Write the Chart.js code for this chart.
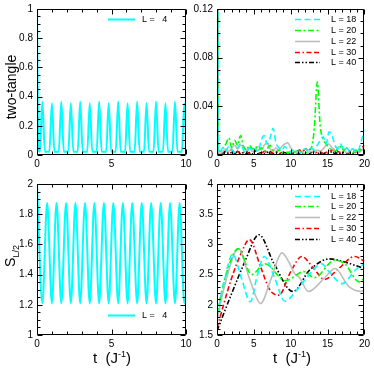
<!DOCTYPE html>
<html><head><meta charset="utf-8">
<script src="https://cdn.jsdelivr.net/npm/chart.js@4.4.1/dist/chart.umd.min.js"></script>
<style>
html,body{margin:0;padding:0;background:#fff;}
#wrap{position:relative;width:374px;height:368px;overflow:hidden;font-family:"Liberation Sans",Arial,sans-serif;}
canvas{position:absolute;left:0;top:0;}
.lab{position:absolute;color:#000;white-space:nowrap;line-height:1;}
</style></head><body>
<div id="wrap">
<canvas id="c1" width="374" height="368"></canvas>
<canvas id="c2" width="374" height="368"></canvas>
<canvas id="c3" width="374" height="368"></canvas>
<canvas id="c4" width="374" height="368"></canvas>
<div class="lab" style="left:11px;top:87px;font-size:14px;transform:translate(-50%,-50%) rotate(-90deg);">two-tangle</div>
<div class="lab" style="left:12px;top:256px;font-size:14px;transform:translate(-50%,-50%) rotate(-90deg);">S<sub style="font-size:9px;">L/2</sub></div>
<div class="lab" style="left:112px;top:357px;font-size:15px;transform:translate(-50%,-50%);">t&nbsp;&nbsp;(J<sup style="font-size:9px;">-1</sup>)</div>
<div class="lab" style="left:292px;top:357px;font-size:15px;transform:translate(-50%,-50%);">t&nbsp;&nbsp;(J<sup style="font-size:9px;">-1</sup>)</div>
</div>
<script>
// ---------- data ----------
// top-left: two-tangle, L = 4
const tlTime = [0, 0.1, 0.19, 0.36, 0.53, 0.83, 1.0, 1.17, 1.46, 1.63, 1.8, 2.1, 2.27, 2.44, 2.73, 2.9, 3.07, 3.37, 3.54, 3.71, 4.0, 4.17, 4.34, 4.64, 4.81, 4.98, 5.28, 5.45, 5.62, 5.91, 6.08, 6.25, 6.55, 6.72, 6.89, 7.18, 7.35, 7.52, 7.82, 7.99, 8.16, 8.45, 8.62, 8.79, 9.09, 9.26, 9.43, 9.72, 9.89, 10.0];
const tlL4 = [1.0, 0.03, 0.022, 0.367, 0.022, 0.022, 0.355, 0.022, 0.022, 0.367, 0.022, 0.022, 0.355, 0.022, 0.022, 0.367, 0.022, 0.022, 0.355, 0.022, 0.022, 0.367, 0.022, 0.022, 0.355, 0.022, 0.022, 0.367, 0.022, 0.022, 0.355, 0.022, 0.022, 0.367, 0.022, 0.022, 0.355, 0.022, 0.022, 0.367, 0.022, 0.022, 0.355, 0.022, 0.022, 0.367, 0.022, 0.022, 0.355, 0.12];

// bottom-left: S_{L/2}, L = 4
const blTime = [0, 0.36, 0.68, 1.0, 1.31, 1.63, 1.95, 2.27, 2.58, 2.9, 3.22, 3.54, 3.85, 4.17, 4.49, 4.81, 5.12, 5.45, 5.76, 6.08, 6.39, 6.72, 7.03, 7.35, 7.66, 7.99, 8.3, 8.62, 8.93, 9.26, 9.57, 9.89, 10.0];
const blL4 = [2.0, 1.21, 1.875, 1.21, 1.875, 1.21, 1.875, 1.21, 1.875, 1.21, 1.875, 1.21, 1.875, 1.21, 1.875, 1.21, 1.875, 1.21, 1.875, 1.21, 1.875, 1.21, 1.875, 1.21, 1.875, 1.21, 1.875, 1.21, 1.875, 1.21, 1.875, 1.21, 1.26];

// top-right: two-tangle, L = 18..40
const trTime = [0, 0.15, 0.4, 0.8, 1.2, 1.6, 2.0, 2.4, 2.8, 3.2, 3.6, 4.0, 4.4, 4.8, 5.2, 5.6, 6.0, 6.4, 6.8, 7.2, 7.6, 8.0, 8.4, 8.8, 9.2, 9.6, 10.0, 10.4, 10.8, 11.2, 11.6, 12.0, 12.4, 12.8, 13.2, 13.6, 14.0, 14.4, 14.8, 15.2, 15.6, 16.0, 16.4, 16.8, 17.2, 17.6, 18.0, 18.4, 18.8, 19.2, 19.6, 20.0];
const trL18 = [1.0, 0.004, 0.002, 0.006, 0.003, 0.007, 0.004, 0.002, 0.006, 0.009, 0.004, 0.002, 0.006, 0.003, 0.005, 0.003, 0.012, 0.016, 0.009, 0.014, 0.022, 0.01, 0.006, 0.004, 0.007, 0.004, 0.002, 0.005, 0.003, 0.002, 0.004, 0.005, 0.003, 0.006, 0.004, 0.008, 0.012, 0.015, 0.009, 0.019, 0.016, 0.008, 0.005, 0.009, 0.004, 0.006, 0.003, 0.005, 0.002, 0.004, 0.012, 0.021];
const trL20 = [1.0, 0.005, 0.003, 0.006, 0.009, 0.014, 0.006, 0.012, 0.008, 0.016, 0.007, 0.004, 0.008, 0.005, 0.007, 0.004, 0.006, 0.003, 0.005, 0.008, 0.004, 0.002, 0.004, 0.002, 0.003, 0.002, 0.003, 0.002, 0.004, 0.002, 0.003, 0.002, 0.004, 0.006, 0.022, 0.06, 0.024, 0.013, 0.009, 0.006, 0.004, 0.003, 0.005, 0.007, 0.004, 0.006, 0.003, 0.002, 0.004, 0.003, 0.005, 0.004];
const trL22 = [1.0, 0.003, 0.001, 0.003, 0.005, 0.003, 0.006, 0.008, 0.005, 0.008, 0.007, 0.004, 0.006, 0.003, 0.005, 0.007, 0.004, 0.008, 0.01, 0.005, 0.003, 0.006, 0.004, 0.007, 0.009, 0.01, 0.006, 0.003, 0.002, 0.003, 0.002, 0.001, 0.002, 0.003, 0.002, 0.004, 0.003, 0.005, 0.008, 0.009, 0.006, 0.003, 0.006, 0.007, 0.004, 0.002, 0.003, 0.005, 0.003, 0.002, 0.004, 0.006];
const trL30 = [1.0, 0.004, 0.002, 0.001, 0.003, 0.002, 0.004, 0.002, 0.003, 0.001, 0.002, 0.003, 0.001, 0.002, 0.004, 0.002, 0.001, 0.003, 0.002, 0.001, 0.002, 0.003, 0.001, 0.002, 0.001, 0.002, 0.001, 0.002, 0.003, 0.004, 0.003, 0.005, 0.004, 0.005, 0.003, 0.002, 0.003, 0.001, 0.002, 0.003, 0.004, 0.005, 0.003, 0.002, 0.003, 0.001, 0.002, 0.003, 0.002, 0.004, 0.006, 0.008];
const trL40 = [1.0, 0.002, 0.001, 0.002, 0.003, 0.001, 0.002, 0.001, 0.003, 0.001, 0.002, 0.001, 0.002, 0.001, 0.003, 0.001, 0.002, 0.001, 0.002, 0.003, 0.001, 0.002, 0.001, 0.001, 0.002, 0.001, 0.002, 0.001, 0.002, 0.001, 0.001, 0.002, 0.001, 0.002, 0.003, 0.001, 0.002, 0.001, 0.002, 0.001, 0.003, 0.001, 0.002, 0.001, 0.002, 0.001, 0.002, 0.001, 0.003, 0.002, 0.004, 0.003];

// bottom-right: S_{L/2}, L = 18..40
const brTime18 = [0, 1.0, 2.1, 3.3, 4.5, 5.5, 6.4, 7.8, 9.2, 10.8, 12.3, 14.2, 15.2, 17.0, 18.8, 20];
const brL18    = [1.82, 2.4, 2.84, 2.45, 2.05, 2.5, 2.8, 2.45, 2.06, 2.24, 2.47, 2.68, 2.55, 2.35, 2.58, 2.68];
const brTime20 = [0, 1.0, 2.9, 4.7, 6.5, 9.3, 11.8, 13.2, 16.0, 17.4, 19.3, 20];
const brL20    = [1.85, 2.4, 2.93, 2.5, 2.68, 2.4, 2.55, 2.45, 2.74, 2.67, 2.38, 2.44];
const brTime22 = [0, 1.0, 2.9, 4.5, 5.9, 7.4, 8.8, 9.8, 10.5, 11.2, 12.4, 14.7, 16.0, 17.9, 19.6, 20];
const brL22    = [1.74, 2.3, 2.93, 2.4, 2.02, 2.45, 2.86, 2.7, 2.52, 2.45, 2.22, 2.46, 2.6, 2.3, 2.22, 2.26];
const brTime30 = [0, 1.9, 3.3, 4.4, 5.9, 7.2, 8.4, 10.0, 11.5, 13.0, 14.6, 16.5, 18.7, 20];
const brL30    = [1.62, 2.41, 2.86, 3.08, 2.63, 2.24, 2.16, 2.55, 2.8, 2.62, 2.42, 2.6, 2.8, 2.72];
const brTime40 = [0, 2.0, 3.7, 5.7, 7.7, 10.3, 12.6, 15.3, 17.0, 20];
const brL40    = [1.57, 2.19, 2.69, 3.16, 2.69, 2.22, 2.58, 2.76, 2.72, 2.6];

const legendLabels = ['L = 18', 'L = 20', 'L = 22', 'L = 30', 'L = 40'];
const legendL4 = 'L =   4';

// ---------- styling ----------
const FONT = '"Liberation Sans", Arial, sans-serif';
const S18 = {borderColor:'#00ffff', borderDash:[6,3.5], borderWidth:1.6};
const S20 = {borderColor:'#00ff00', borderDash:[6,2.5,2,2.5], borderWidth:1.6};
const S22 = {borderColor:'#bebebe', borderDash:[], borderWidth:1.6};
const S30 = {borderColor:'#ff0000', borderDash:[5,2.5,1.5,2.5,5,2.5], borderWidth:1.6};
const S40 = {borderColor:'#000000', borderDash:[5,2,1.5,2,1.5,2], borderWidth:1.6};
const S4  = {borderColor:'#00ffff', borderDash:[], borderWidth:2};

function pts(ts, vs){ return ts.map((t,i)=>({x:t, y:vs[i]})); }
function ds(ts, vs, st){
  return Object.assign({data:pts(ts,vs), pointRadius:0, fill:false, cubicInterpolationMode:'monotone'}, st);
}
const fmt = v => String(Math.round(v*1000)/1000);

const framePlugin = {
  id:'frameTicks',
  afterDatasetsDraw(chart, args, o){
    const ctx=chart.ctx, a=chart.chartArea, xs=chart.scales.x, ys=chart.scales.y;
    ctx.save();
    ctx.strokeStyle='#000'; ctx.lineWidth=1; ctx.setLineDash([]);
    const L=Math.round(a.left)+0.5, R=Math.round(a.right)-0.5, T=Math.round(a.top)+0.5, B=Math.round(a.bottom)-0.5;
    ctx.beginPath();
    ctx.rect(L,T,R-L,B-T);
    const isMajor=(v,step)=>Math.abs(v/step-Math.round(v/step))<1e-6;
    const nx=Math.round((xs.max-xs.min)/o.xMinor);
    for(let i=0;i<=nx;i++){
      const v=xs.min+i*o.xMinor, len=isMajor(v,o.xMajor)?5:3;
      const p=Math.round(xs.getPixelForValue(v))+0.5;
      ctx.moveTo(p,T); ctx.lineTo(p,T+len); ctx.moveTo(p,B); ctx.lineTo(p,B-len);
    }
    const ny=Math.round((ys.max-ys.min)/o.yMinor);
    for(let i=0;i<=ny;i++){
      const v=ys.min+i*o.yMinor, len=isMajor(v,o.yMajor)?5:3;
      const p=Math.round(ys.getPixelForValue(v))+0.5;
      ctx.moveTo(L,p); ctx.lineTo(L+len,p); ctx.moveTo(R,p); ctx.lineTo(R-len,p);
    }
    ctx.stroke();
    // legend
    const lg=o.legend;
    ctx.font='9px '+FONT; ctx.fillStyle='#000'; ctx.textBaseline='middle'; ctx.textAlign='left';
    lg.items.forEach((it,i)=>{
      const d=chart.data.datasets[i];
      ctx.save();
      ctx.strokeStyle=d.borderColor; ctx.lineWidth=d.borderWidth; ctx.setLineDash(d.borderDash||[]);
      ctx.beginPath(); ctx.moveTo(lg.x1,it.y+0.5); ctx.lineTo(lg.x2,it.y+0.5); ctx.stroke();
      ctx.restore();
      ctx.fillText(it.label, lg.tx, it.y+1);
    });
    ctx.restore();
  }
};

function makePanel(id, area, xr, yr, datasets, legend){
  const yW=36, xH=20;
  new Chart(document.getElementById(id), {
    type:'line',
    data:{datasets},
    options:{
      responsive:false, animation:false, events:[],
      layout:{padding:{left:area.l-yW, top:area.t, right:374-area.r, bottom:368-area.b-xH}},
      plugins:{legend:{display:false}, tooltip:{enabled:false},
        frameTicks:{xMajor:xr.major, xMinor:xr.minor, yMajor:yr.major, yMinor:yr.minor, legend}},
      scales:{
        x:{type:'linear', min:xr.min, max:xr.max,
           grid:{display:false, drawTicks:false}, border:{display:false},
           ticks:{stepSize:xr.major, padding:4, color:'#000', maxRotation:0, callback:fmt, font:{family:FONT, size:10, lineHeight:1}},
           afterFit(s){ s.height=xH; }},
        y:{type:'linear', min:yr.min, max:yr.max,
           grid:{display:false, drawTicks:false}, border:{display:false},
           ticks:{stepSize:yr.major, padding:4, color:'#000', callback:fmt, font:{family:FONT, size:10, lineHeight:1}},
           afterFit(s){ s.width=yW; }}
      }
    },
    plugins:[framePlugin]
  });
}

makePanel('c1', {l:37,t:5,r:186,b:155}, {min:0,max:10,major:5,minor:1}, {min:0,max:1,major:0.2,minor:0.05},
  [ds(tlTime, tlL4, S4)],
  {x1:108, x2:135, tx:142, items:[{y:19, label:legendL4}]});

makePanel('c2', {l:217,t:5,r:368,b:155}, {min:0,max:20,major:5,minor:1}, {min:0,max:0.12,major:0.04,minor:0.01},
  [ds(trTime,trL18,S18), ds(trTime,trL20,S20), ds(trTime,trL22,S22), ds(trTime,trL30,S30), ds(trTime,trL40,S40)],
  {x1:295, x2:320, tx:331, items:[19,30,41,52,62].map((y,i)=>({y, label:legendLabels[i]}))});

makePanel('c3', {l:37,t:184,r:186,b:335}, {min:0,max:10,major:5,minor:1}, {min:1,max:2,major:0.2,minor:0.05},
  [ds(blTime, blL4, S4)],
  {x1:108, x2:135, tx:142, items:[{y:315, label:legendL4}]});

makePanel('c4', {l:217,t:184,r:368,b:335}, {min:0,max:20,major:5,minor:1}, {min:1.5,max:4,major:0.5,minor:0.1},
  [ds(brTime18,brL18,S18), ds(brTime20,brL20,S20), ds(brTime22,brL22,S22), ds(brTime30,brL30,S30), ds(brTime40,brL40,S40)],
  {x1:295, x2:320, tx:331, items:[196,206,217,228,239].map((y,i)=>({y, label:legendLabels[i]}))});
</script>
</body></html>
